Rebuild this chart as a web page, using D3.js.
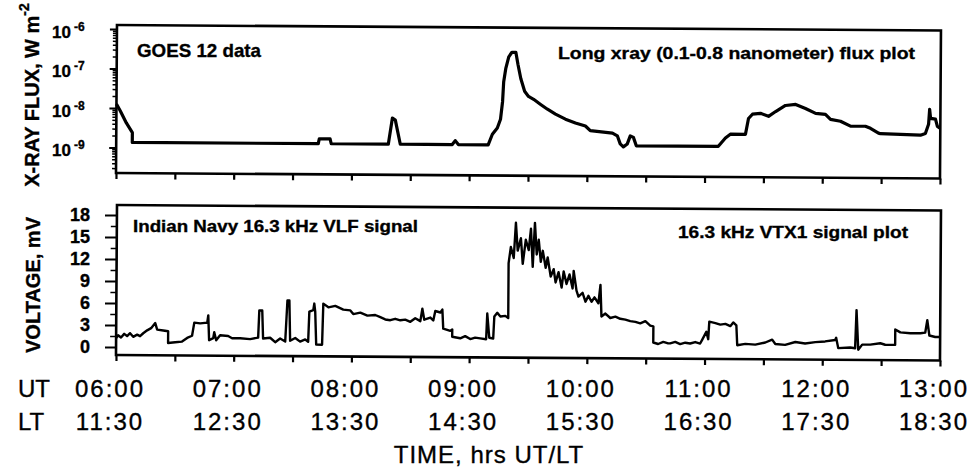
<!DOCTYPE html>
<html>
<head>
<meta charset="utf-8">
<script src="https://cdn.jsdelivr.net/npm/d3@7"></script>
<style>
body { margin: 0; background: #fff; }
svg { font-family: "Liberation Sans", Arial, sans-serif; }
svg text { fill: #000; stroke: #000; stroke-width: 0.35px; }
</style>
</head>
<body>
<script>
// minutes after 06:00 UT
var xrayTime = [0,2,5.1,8.2,8.2,103,103.5,109,109.6,138.7,
  140.7,142.2,144.8,171.3,172.8,174.4,189.6,191.7,194.2,195.8,
  196.8,197.3,198.3,199.8,201.4,203.4,204.5,206,208,210,
  212.6,216.2,219.7,223.8,228.9,234,239.1,241.6,252.9,255.4,
  256.9,258.5,260.5,262,263.6,265.1,306.9,307.9,310.5,313,
  320.7,322.2,324.2,328.3,332.4,336,341,346.2,351.2,356.4,
  361.4,364,369.1,374.2,381.8,384.4,388.5,389.5,409.9,412.4,
  414,414.5,415,417.5,418.5,420];
// W m^-2
var xrayFlux = [1.26e-8,8.4e-9,4.2e-9,2.4e-9,1.35e-9,1.35e-9,1.8e-9,1.8e-9,1.35e-9,1.35e-9,
  6.2e-9,5.5e-9,1.35e-9,1.35e-9,1.7e-9,1.35e-9,1.35e-9,2.5e-9,3.6e-9,6e-9,
  1.7e-8,5.4e-8,1.15e-7,2.3e-7,3.0e-7,3.0e-7,1.5e-7,6.5e-8,3.1e-8,2.3e-8,
  1.95e-8,1.45e-8,1.1e-8,8.3e-9,6.2e-9,5.0e-9,4.2e-9,3.2e-9,2.8e-9,2.4e-9,
  1.5e-9,1.26e-9,1.5e-9,2.4e-9,2.2e-9,1.35e-9,1.35e-9,1.55e-9,2.2e-9,2.75e-9,
  2.75e-9,6.9e-9,8.9e-9,9.4e-9,7.9e-9,1.05e-8,1.5e-8,1.6e-8,1.27e-8,9.6e-9,
  9.1e-9,6.8e-9,6.1e-9,4.6e-9,4.6e-9,4.1e-9,3.1e-9,3.0e-9,2.8e-9,3.1e-9,
  5.3e-9,1.26e-8,7.5e-9,7.2e-9,4.7e-9,4.2e-9];

var vlfTime = [0,1,2.5,4.1,5.6,7.1,8.7,10.7,12.2,13.8,
  15.8,17.8,19.9,20.9,24,26.5,26.5,30.1,33.6,36.2,
  38.7,39.8,42.8,46.4,46.9,47.4,49.5,50,51,53,
  57.1,59.1,63.2,68.3,72.4,72.9,74.4,74.9,78.5,81.1,
  83.6,86.2,87.2,88.2,88.7,91.3,93.8,96.4,97.9,98.4,
  100.4,100.9,101.4,102,105,105.5,108.1,111.6,115.7,119.3,
  120.8,124.4,128,132,134.6,137.1,139.7,142.2,144.8,147.3,
  149.9,152.4,155,156,157,160.1,161.6,162.6,165.2,166.2,
  166.7,170.3,171.3,171.3,175.4,177.9,180.5,183,185.6,188.6,
  189.1,190.2,192.2,192.7,194.2,195.8,198.3,199.8,199.8,200.9,
  202.4,203.4,204.4,206,207,208.5,210,211.1,212.1,213.1,
  214.1,215.1,216.2,217.2,218.7,219.7,221.3,222.8,223.8,225.3,
  226.9,227.9,229.4,230.9,232.5,233,234.5,235.5,237.6,239.1,
  240.6,242.2,243.7,245.7,246.7,247.3,249.3,251.8,254.4,256.9,
  259.5,262,264.6,267.1,269.7,272.2,273.8,273.8,276.3,278.9,
  281.4,282.4,285,287.5,290.1,292.6,295.2,297.7,298.7,300.8,
  301.8,302.3,305.4,307.9,310.5,313,314.5,316.1,316.6,320.7,
  325.8,330.9,334.4,336,341,346.2,351.2,356.4,361.4,366.5,
  367,368.1,374.2,376.7,377.3,378.3,380.3,384.4,389.5,392,
  397.1,397.1,399.7,404.8,409.9,412.4,413.4,414.5,417.5,420];
// mV
var vlfVolt = [1.2,1.6,1.3,1.8,1.5,1.9,1.4,1.7,1.5,1.9,
  2.3,2.6,3.3,2.4,2.3,2.2,0.6,0.7,0.8,1.3,
  1.6,3.4,3.3,3.4,4.4,1.0,1.3,2.1,1.0,1.7,
  1.6,1.3,1.3,1.2,1.4,5.1,5.1,1.3,1.4,0.8,
  1.3,0.9,6.5,6.5,1.0,1.4,0.9,1.2,0.9,5.0,
  5.2,6.1,5.0,0.5,0.5,6.1,5.6,5.8,5.3,5.2,
  4.7,4.9,4.5,4.6,4.3,4.0,3.9,4.1,3.9,4.0,
  3.7,4.2,3.8,5.5,4.0,4.3,3.9,5.2,5.0,5.4,
  2.8,2.5,2.7,1.7,1.5,1.8,1.4,1.6,1.5,1.4,
  4.9,1.6,1.5,4.5,5.0,4.5,4.6,4.3,11.8,14.0,
  12.5,17.3,13.5,15.2,11.7,15.0,13.6,16.5,11.3,17.3,
  13.0,15.0,12.0,13.5,11.2,12.6,10.0,11.0,9.2,10.6,
  8.5,10.7,9.0,10.3,8.4,10.8,8.1,7.3,7.8,6.6,
  7.4,6.6,7.2,6.4,8.9,4.6,5.0,4.4,4.6,4.3,
  4.2,4.0,3.9,3.7,4.0,3.4,3.3,1.1,0.9,1.2,
  1.0,1.0,1.2,0.9,1.1,1.0,1.2,1.0,1.5,2.6,
  1.6,4.0,3.8,3.6,3.7,3.4,3.9,3.5,0.8,1.0,
  0.9,1.2,1.6,1.0,0.9,1.3,1.1,1.3,1.4,1.6,
  1.9,0.5,0.6,0.5,5.7,0.3,1.0,1.0,1.2,1.0,
  1.0,3.1,2.7,2.6,2.6,2.7,4.4,2.3,2.1,2.1];

var utLabels = ["06:00","07:00","08:00","09:00","10:00","11:00","12:00","13:00"];
var ltLabels = ["11:30","12:30","13:30","14:30","15:30","16:30","17:30","18:30"];
var fluxTicks = [1e-6, 1e-7, 1e-8, 1e-9];
var fluxExp = ["-6", "-7", "-8", "-9"];
var voltTicks = [0, 3, 6, 9, 12, 15, 18];
var voltMinor = [1.5, 4.5, 7.5, 10.5, 13.5, 16.5];

var svg = d3.select("body").append("svg")
    .attr("width", 969)
    .attr("height", 467);

var x = d3.scaleLinear().domain([0, 420]).range([116, 940]);
var yTop = d3.scaleLog().domain([Math.pow(10, -9.646), Math.pow(10, -5.899)]).range([173, 25]);
var yBot = d3.scaleLinear().domain([-8 / 7.333, 18 + 10 / 7.333]).range([355, 205]);

var halfHours = d3.range(0, 421, 30);
var tilt = 0.38; // the scanned frames lean a little

var minorFlux = [];
for (var e = -10; e <= -6; e++)
  for (var m = 2; m <= 9; m++) {
    var v = m * Math.pow(10, e);
    if (v >= yTop.domain()[0] && v <= yTop.domain()[1]) minorFlux.push(v);
  }

function styleAxis(g, w) {
  g.select(".domain").remove();
  g.selectAll("line").attr("stroke", "#000").attr("stroke-width", w);
}

// ---- top panel
var gTop = svg.append("g").attr("transform", "rotate(" + tilt + ",116,173)");

gTop.append("g").attr("transform", "translate(0,173)")
  .call(d3.axisBottom(x).tickValues(halfHours).tickSize(6).tickFormat(""))
  .call(styleAxis, 2.2);
gTop.append("g").attr("transform", "translate(116,0)")
  .call(d3.axisLeft(yTop).tickValues(minorFlux).tickSize(4).tickFormat(""))
  .call(styleAxis, 1.5);
gTop.append("g").attr("transform", "translate(116,0)")
  .call(d3.axisLeft(yTop).tickValues(fluxTicks).tickSize(7).tickFormat(""))
  .call(styleAxis, 2);

var lineTop = d3.line()
  .x(function(d) { return x(d[0]); })
  .y(function(d) { return yTop(d[1]); });

gTop.append("path")
  .datum(d3.zip(xrayTime, xrayFlux))
  .attr("d", lineTop)
  .attr("fill", "none")
  .attr("stroke", "#000")
  .attr("stroke-width", 3.2)
  .attr("stroke-linejoin", "round");

gTop.append("rect")
  .attr("x", 116).attr("y", 25).attr("width", 824).attr("height", 148)
  .attr("fill", "none").attr("stroke", "#000").attr("stroke-width", 2.6);

// ---- bottom panel
var gBot = svg.append("g").attr("transform", "rotate(" + tilt + ",116,355)");

gBot.append("g").attr("transform", "translate(0,355)")
  .call(d3.axisBottom(x).tickValues(halfHours).tickSize(6).tickFormat(""))
  .call(styleAxis, 2.2);
gBot.append("g").attr("transform", "translate(116,0)")
  .call(d3.axisLeft(yBot).tickValues(voltMinor).tickSize(6).tickFormat(""))
  .call(styleAxis, 1.6);

var lineBot = d3.line()
  .x(function(d) { return x(d[0]); })
  .y(function(d) { return yBot(d[1]); });

gBot.append("path")
  .datum(d3.zip(vlfTime, vlfVolt))
  .attr("d", lineBot)
  .attr("fill", "none")
  .attr("stroke", "#000")
  .attr("stroke-width", 2.4)
  .attr("stroke-linejoin", "round");

gBot.append("rect")
  .attr("x", 116).attr("y", 205).attr("width", 824).attr("height", 150)
  .attr("fill", "none").attr("stroke", "#000").attr("stroke-width", 2.6);

var voltAxis = svg.append("g").attr("transform", "translate(116,0)")
  .call(d3.axisLeft(yBot).tickValues(voltTicks).tickSize(11).tickPadding(15));
styleAxis(voltAxis, 2);
voltAxis.selectAll("text")
  .attr("font-size", 18).attr("font-weight", "bold").attr("fill", "#000")
  .attr("font-family", "Liberation Sans, Arial, sans-serif");

// flux tick labels 10^-n
fluxTicks.forEach(function(v, i) {
  var t = svg.append("text")
    .attr("x", 52).attr("y", yTop(v) + 9)
    .attr("font-size", 17).attr("font-weight", "bold")
    .text("10");
  t.append("tspan").attr("dx", 3).attr("dy", -7).attr("font-size", 12).text(fluxExp[i]);
});

// y titles
var yt = svg.append("text")
  .attr("transform", "translate(39,95) rotate(-90)")
  .attr("text-anchor", "middle")
  .attr("font-size", 20).attr("font-weight", "bold")
  .text("X-RAY FLUX, W m");
yt.append("tspan").attr("dy", -10).attr("font-size", 14).text("-2");

svg.append("text")
  .attr("transform", "translate(40,285) rotate(-90)")
  .attr("text-anchor", "middle")
  .attr("font-size", 20).attr("font-weight", "bold")
  .text("VOLTAGE, mV");

// panel notes
svg.append("text").attr("x", 137).attr("y", 57)
  .attr("font-size", 19).attr("font-weight", "bold")
  .attr("textLength", 124).attr("lengthAdjust", "spacingAndGlyphs")
  .text("GOES 12 data");
svg.append("text").attr("x", 558).attr("y", 59)
  .attr("font-size", 17).attr("font-weight", "bold")
  .attr("textLength", 357).attr("lengthAdjust", "spacingAndGlyphs")
  .text("Long xray (0.1-0.8 nanometer) flux plot");
svg.append("text").attr("x", 133).attr("y", 232)
  .attr("font-size", 17).attr("font-weight", "bold")
  .attr("textLength", 285).attr("lengthAdjust", "spacingAndGlyphs")
  .text("Indian Navy 16.3 kHz VLF signal");
svg.append("text").attr("x", 678).attr("y", 238)
  .attr("font-size", 17).attr("font-weight", "bold")
  .attr("textLength", 230).attr("lengthAdjust", "spacingAndGlyphs")
  .text("16.3 kHz VTX1 signal plot");

// time labels
var hours = d3.range(0, 421, 60);
svg.append("text").attr("x", 18).attr("y", 397).attr("font-size", 24).text("UT");
svg.append("text").attr("x", 18).attr("y", 430).attr("font-size", 24).text("LT");

svg.selectAll(".ut").data(utLabels).enter().append("text")
  .attr("class", "ut")
  .attr("x", function(d, i) { return x(hours[i]) - 6; })
  .attr("y", 397)
  .attr("text-anchor", "middle")
  .attr("font-size", 24).attr("letter-spacing", 2)
  .text(function(d) { return d; });

svg.selectAll(".lt").data(ltLabels).enter().append("text")
  .attr("class", "lt")
  .attr("x", function(d, i) { return x(hours[i]) - 6; })
  .attr("y", 430)
  .attr("text-anchor", "middle")
  .attr("font-size", 24).attr("letter-spacing", 2)
  .text(function(d) { return d; });

svg.append("text").attr("x", 489).attr("y", 463)
  .attr("text-anchor", "middle")
  .attr("font-size", 24).attr("letter-spacing", 1)
  .text("TIME, hrs UT/LT");
</script>
</body>
</html>
